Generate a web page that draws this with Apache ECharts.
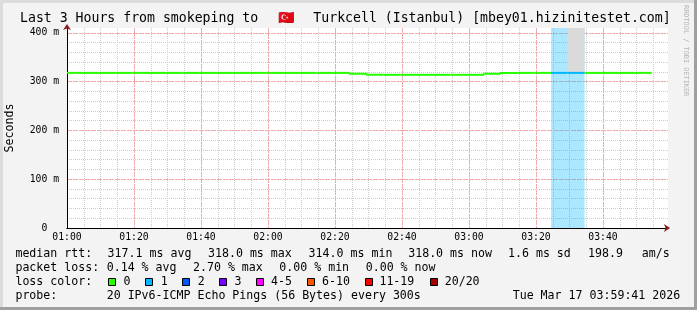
<!DOCTYPE html>
<html><head><meta charset="utf-8">
<script src="https://cdn.jsdelivr.net/npm/echarts@6/dist/echarts.min.js"></script>
<style>html,body{margin:0;padding:0;background:#f3f3f3}#c{width:697px;height:310px}</style>
</head><body><div id="c"></div>
<script>
// ---- data ----
const intervalStarts = ['00:59:30','01:04:30','01:09:30','01:14:30','01:19:30','01:24:30','01:29:30',
  '01:34:30','01:39:30','01:44:30','01:49:30','01:54:30','01:59:30','02:04:30','02:09:30','02:14:30',
  '02:19:30','02:24:30','02:29:30','02:34:30','02:39:30','02:44:30','02:49:30','02:54:30','02:59:30',
  '03:04:30','03:09:30','03:14:30','03:19:30','03:24:30','03:29:30','03:34:30','03:39:30','03:44:30','03:49:30'];
const medianRtt = [318,318,318,318,318,318,318,318,318,318,318,318,318,318,318,318,318,
  316,314,314,314,314,314,314,314,316,318,318,318,318,318,318,318,318,318];
const lossCount = [0,0,0,0,0,0,0,0,0,0,0,0,0,0,0,0,0,0,0,0,0,0,0,0,0,0,0,0,0,1,1,0,0,0,0];
const maxRtt = [318,318,318,318,318,318,318,318,318,318,318,318,318,318,318,318,318,
  316,314,314,314,314,314,314,314,316,318,318,318,318,440,318,318,318,318];
const xTickLabels = ['01:00','01:20','01:40','02:00','02:20','02:40','03:00','03:20','03:40'];
const yTickLabels = ['0  ','100 m','200 m','300 m','400 m'];
const lossColors = ['#26ff00','#00b8ff','#0059ff','#7e00ff','#ff00ff','#ff5500','#ff0000','#a10000'];
const lossLabels = ['0','1','2','3','4-5','6-10','11-19','20/20'];
const rttStats = ['317.1 ms avg','318.0 ms max','314.0 ms min','318.0 ms now','1.6 ms sd','198.9','am/s'];
const lossStats = ['0.14 % avg','2.70 % max','0.00 % min','0.00 % now'];
const titleParts = ['Last 3 Hours from smokeping to', '\u{1F1F9}\u{1F1F7}', ' Turkcell (Istanbul) [mbey01.hizinitestet.com]'];
const probeText = '20 IPv6-ICMP Echo Pings (56 Bytes) every 300s';
const stampText = 'Tue Mar 17 03:59:41 2026';

// ---- helpers ----
function toMin(t){const p=t.split(':').map(Number);return p[0]*60+p[1]+p[2]/60-60;}
function lossIdx(n){if(n<=3)return n;if(n<=5)return 4;if(n<=10)return 5;if(n<=19)return 6;return 7;}
const STEP = 5; // probe step, 300 s
const seriesData = intervalStarts.map((t,i)=>[toMin(t), toMin(t)+STEP, medianRtt[i], lossCount[i], maxRtt[i]]);

const MONO = '"DejaVu Sans Mono", monospace';
const XMAX = 179.4, YMAX = 410;

const chart = echarts.init(document.getElementById('c'), null, {renderer:'canvas'});

function txt(x,y,text,size,extra){
  return Object.assign({type:'text', x:x, y:y, z:100, silent:true,
    style:{text:text, font:size+'px '+MONO, fill:'#000', textAlign:'left', textVerticalAlign:'middle'}}, extra||{});
}
const graphics = [
  {type:'rect', shape:{x:0,y:0,width:697,height:3}, style:{fill:'#dcdcdc'}, z:-10, silent:true},
  {type:'rect', shape:{x:0,y:0,width:3,height:310}, style:{fill:'#dcdcdc'}, z:-10, silent:true},
  {type:'rect', shape:{x:0,y:307,width:697,height:3}, style:{fill:'#a0a0a0'}, z:-9, silent:true},
  {type:'rect', shape:{x:694,y:0,width:3,height:310}, style:{fill:'#a0a0a0'}, z:-9, silent:true},
  txt(20,19,titleParts[0],13.2),
  txt(286,19,titleParts[1],13.2,{style:{text:titleParts[1], font:'13.2px '+MONO, fill:'#000', textAlign:'center', textVerticalAlign:'middle'}}),
  txt(305.4,19,titleParts[2],13.2),
  txt(10,128,'Seconds',11.6,{rotation:Math.PI/2, style:{text:'Seconds', font:'11.6px '+MONO, fill:'#000', textAlign:'center', textVerticalAlign:'middle'}}),
  txt(686,5,'RRDTOOL / TOBI OETIKER',6.9,{rotation:-Math.PI/2, style:{text:'RRDTOOL / TOBI OETIKER', font:'6.9px '+MONO, fill:'#b4b4b4', textAlign:'left', textVerticalAlign:'middle'}}),
  txt(15.4,254,'median rtt:',11.6),
  txt(15.4,268,'packet loss:',11.6),
  txt(15.4,282,'loss color:',11.6),
  txt(15.4,296,'probe:',11.6),
  txt(106.7,296,probeText,11.6),
  txt(512.7,296,stampText,11.6)
];
const rttX = [107.6,208,308.6,408.2,508,588,641.7];
rttStats.forEach((s,i)=>graphics.push(txt(rttX[i],254,s,11.6)));
const lossX = [106.7,193.0,279.3,365.7];
lossStats.forEach((s,i)=>graphics.push(txt(lossX[i],268,s,11.6)));
const boxX = [108.5,145.5,182.5,219.5,256.5,307.5,365.5,430.5];
const lblX = [123.4,160.7,197.7,234.4,271.1,322.1,379.4,444.7];
lossColors.forEach((c,i)=>{
  graphics.push({type:'rect', z:100, silent:true, shape:{x:boxX[i],y:278.5,width:7,height:7}, style:{fill:c, stroke:'#000', lineWidth:1}});
  graphics.push(txt(lblX[i],282,lossLabels[i],11.6));
});

function renderItem(params, api){
  const cs = params.coordSys;
  const i = params.dataIndex;
  const t0 = api.value(0), t1 = api.value(1), v = api.value(2), loss = api.value(3), mx = api.value(4);
  const p0 = api.coord([t0, v]), p1 = api.coord([t1, v]);
  const x0 = Math.max(p0[0], cs.x), x1 = Math.min(p1[0], cs.x + cs.width);
  const top = cs.y, bottom = cs.y + cs.height;
  const col = lossColors[lossIdx(loss)];
  const children = [];
  if (loss > 0) children.push({type:'rect', shape:{x:x0,y:top,width:x1-x0,height:bottom-top}, style:{fill:col, opacity:0.33}});
  if (mx > v) {
    const ym = Math.max(api.coord([t0, mx])[1], top);
    children.push({type:'rect', shape:{x:x0,y:ym,width:x1-x0,height:p0[1]-ym}, style:{fill:'#dadada'}});
  }
  const pts = [];
  if (i > 0) pts.push([x0, api.coord([t0, medianRtt[i-1]])[1]]);
  pts.push([x0, p0[1]], [x1, p0[1]]);
  children.push({type:'polyline', shape:{points:pts}, style:{stroke:col, lineWidth:2, fill:null}});
  return {type:'group', children:children};
}

const minorLine = {show:true, showMinLine:false, showMaxLine:false, lineStyle:{color:'#cccccc', type:[1,1], width:1}};
const majorLine = {show:true, showMinLine:false, showMaxLine:false, lineStyle:{color:'#f4a4a4', type:[2,1], width:1}};

chart.setOption({
  backgroundColor:'#f3f3f3',
  animation:false,
  grid:{left:67, right:29, top:28, bottom:82, show:true, backgroundColor:'#ffffff', borderWidth:0, containLabel:false, outerBoundsMode:'none'},
  xAxis:[
    {type:'value', position:'bottom', min:0, max:XMAX, interval:20, axisLabel:{show:false}, axisTick:{show:false}, splitLine:{show:false},
     axisLine:{show:true, symbol:['none','arrow'], symbolSize:[6,6], symbolOffset:[0,2], lineStyle:{color:'#8b1a1a', width:1}}},
    {type:'value', position:'bottom', min:0, max:XMAX, interval:5, axisLabel:{show:false}, axisTick:{show:false}, axisLine:{show:false}, splitLine:minorLine},
    {type:'value', position:'bottom', min:0, max:XMAX, interval:20,
     axisLine:{show:true, lineStyle:{color:'#000', width:1}},
     axisTick:{show:false},
     splitLine:majorLine,
     axisLabel:{show:true, margin:4, fontFamily:MONO, fontSize:9.75, lineHeight:10, color:'#000', showMaxLabel:true,
       formatter:(v)=>{const k=Math.round(v/20); return (Math.abs(v-k*20)<1e-6 && xTickLabels[k]) ? xTickLabels[k] : '';}}}
  ],
  yAxis:[
    {type:'value', position:'left', min:0, max:YMAX, interval:100, axisLabel:{show:false}, axisTick:{show:false}, splitLine:{show:false},
     axisLine:{show:true, symbol:['none','arrow'], symbolSize:[6,6], symbolOffset:[0,4], lineStyle:{color:'#8b1a1a', width:1}}},
    {type:'value', position:'left', min:0, max:YMAX, interval:20, axisLabel:{show:false}, axisTick:{show:false}, axisLine:{show:false}, splitLine:minorLine},
    {type:'value', position:'left', min:0, max:YMAX, interval:100,
     axisLine:{show:true, lineStyle:{color:'#000', width:1}},
     axisTick:{show:false},
     splitLine:majorLine,
     axisLabel:{show:true, margin:8, fontFamily:MONO, fontSize:9.75, color:'#000',
       formatter:(v)=>{const k=Math.round(v/100); return (Math.abs(v-k*100)<1e-6 && yTickLabels[k]) ? yTickLabels[k] : '';}}}
  ],
  series:[{
    type:'custom', xAxisIndex:2, yAxisIndex:2, renderItem:renderItem, data:seriesData, clip:true,
    encode:{x:[0,1], y:[2,4]}, silent:true
  }],
  graphic:{elements:graphics}
});
</script></body></html>
